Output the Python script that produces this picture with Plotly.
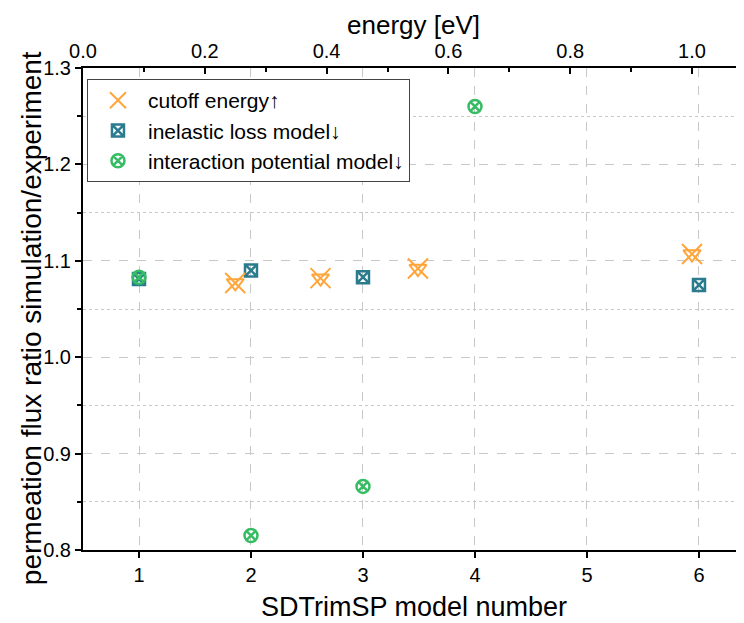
import plotly.graph_objects as go

# Data
cutoff_energy_eV = [0.25, 0.39, 0.55, 1.0]
cutoff_ratio = [1.077, 1.082, 1.092, 1.107]

inelastic_model = [1, 2, 3, 6]
inelastic_ratio = [1.081, 1.090, 1.083, 1.075]

interaction_model = [1, 2, 3, 4]
interaction_ratio = [1.083, 0.815, 0.866, 1.260]

ORANGE = "#ffa53a"
TEAL = "#2a7b8e"
GREEN = "#36bd64"
FONT = "Liberation Sans, Arial, sans-serif"

fig = go.Figure()

fig.add_trace(go.Scatter(
    x=cutoff_energy_eV, y=cutoff_ratio, xaxis="x2", mode="markers",
    name="cutoff energy\u2191",
    marker=dict(symbol="x-thin-open", size=20, color=ORANGE, line=dict(color=ORANGE, width=2)),
))
fig.add_trace(go.Scatter(
    x=cutoff_energy_eV, y=cutoff_ratio, xaxis="x2", mode="markers",
    showlegend=False, hoverinfo="skip",
    marker=dict(symbol="triangle-down-open", size=15, color=ORANGE, line=dict(color=ORANGE, width=2)),
))
fig.add_trace(go.Scatter(
    x=inelastic_model, y=inelastic_ratio, mode="markers",
    name="inelastic loss model\u2193",
    marker=dict(symbol="square-x-open", size=12, color=TEAL, line=dict(color=TEAL, width=2.5)),
))
fig.add_trace(go.Scatter(
    x=interaction_model, y=interaction_ratio, mode="markers",
    name="interaction potential model\u2193",
    marker=dict(symbol="circle-x-open", size=13, color=GREEN, line=dict(color=GREEN, width=2.5)),
))

grid_c = "#c8c8c8"
fig.update_layout(
    width=736, height=615,
    margin=dict(l=75, r=0, t=60, b=73),
    paper_bgcolor="white", plot_bgcolor="white",
    font=dict(family=FONT, size=20, color="black"),
    xaxis=dict(
        range=[0.5, 6.402], dtick=1, tick0=0, automargin=False,
        showline=True, linecolor="black", linewidth=2,
        ticks="outside", ticklen=6, tickwidth=2, tickcolor="black",
        showgrid=True, gridcolor=grid_c, griddash="dash", gridwidth=1,
        zeroline=False,
    ),
    xaxis2=dict(
        overlaying="x", side="top", anchor="y", automargin=False,
        range=[0, 1.0854], dtick=0.2, tick0=0, tickformat=".1f",
        showline=True, linecolor="black", linewidth=2,
        ticks="inside", ticklen=6, tickwidth=2, tickcolor="black",
        minor=dict(dtick=0.1, ticks="inside", ticklen=4, tickwidth=2, tickcolor="black", showgrid=False),
        showgrid=False, zeroline=False,
    ),
    yaxis=dict(
        range=[0.8, 1.3], dtick=0.1, tick0=0, tickformat=".1f", automargin=False,
        showline=True, linecolor="black", linewidth=2,
        ticks="outside", ticklen=6, tickwidth=2, tickcolor="black",
        showgrid=True, gridcolor=grid_c, griddash="dash", gridwidth=1,
        minor=dict(dtick=0.05, ticks="outside", ticklen=4, tickwidth=2, tickcolor="black",
                   showgrid=True, gridcolor=grid_c, griddash="dot", gridwidth=1),
        zeroline=False,
    ),
    legend=dict(
        x=0.006, y=0.977, xanchor="left", yanchor="top",
        bgcolor="white", bordercolor="#444", borderwidth=1,
        font=dict(size=21), itemwidth=50,
    ),
    annotations=[
        dict(text="SDTrimSP model number", xref="paper", yref="paper", x=0.5, y=0,
             yshift=-57, xanchor="center", yanchor="middle", showarrow=False,
             font=dict(size=27)),
        dict(text="energy [eV]", xref="paper", yref="paper", x=0.5, y=1,
             yshift=60, xanchor="center", yanchor="top", showarrow=False,
             font=dict(size=26)),
        dict(text="permeation flux ratio simulation/experiment", xref="paper", yref="paper",
             x=0, y=0.481, xshift=-52, textangle=-90, xanchor="center", yanchor="middle",
             showarrow=False, font=dict(size=28)),
    ],
)

fig.write_html("out.html")
